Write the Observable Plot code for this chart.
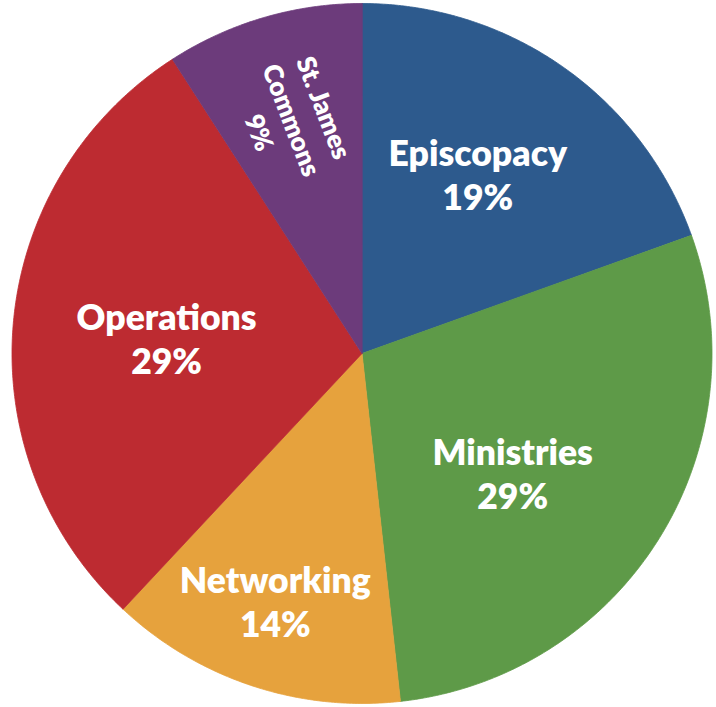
<!DOCTYPE html>
<html>
<head>
<meta charset="utf-8">
<script src="https://cdn.jsdelivr.net/npm/d3@7"></script>
<script src="https://cdn.jsdelivr.net/npm/@observablehq/plot@0.6"></script>
<style>
  html, body { margin: 0; padding: 0; background: #ffffff; }
  #chart svg { display: block; }
</style>
</head>
<body>
<div id="chart"></div>
<script>
// ---- data ----
const categories = ["Episcopacy", "Ministries", "Networking", "Operations", "St. James Commons"];
const displayNames = ["Episcopacy", "Ministries", "Networking", "Operations", "St. James\nCommons"];
const values = [19.5, 28.7, 13.7, 28.9, 9.1];
const percentLabels = ["19%", "29%", "14%", "29%", "9%"];

// ---- styles / layout ----
const colors = ["#2d5a8d", "#5e9a48", "#e6a23d", "#bd2b31", "#6c3b7b"];
const labelRadius = [0.61, 0.55, 0.75, 0.56, 0.697];
const labelAngleShift = [-2.3, 6.5, 0.9, -0.6, 0];
const labelRotate = [0, 0, 0, 0, 69];
const labelSize = [35.5, 35.5, 35.5, 35.5, 26];
const smallLabel = [false, false, false, false, true];

const arcs = d3.pie().sort(null)(values);

// slice outlines as polygons in unit coordinates (x = sin, y = cos, angle 0 at top, clockwise)
const slicePoints = [];
arcs.forEach((a, i) => {
  const name = categories[i];
  slicePoints.push({name, x: 0, y: 0});
  const n = Math.max(2, Math.ceil((a.endAngle - a.startAngle) / (Math.PI / 360)));
  for (let k = 0; k <= n; k++) {
    const t = a.startAngle + (a.endAngle - a.startAngle) * k / n;
    slicePoints.push({name, x: Math.sin(t), y: Math.cos(t)});
  }
});

const labels = arcs.map((a, i) => {
  const mid = (a.startAngle + a.endAngle) / 2 + labelAngleShift[i] * Math.PI / 180;
  return {
    text: displayNames[i] + "\n" + percentLabels[i],
    x: labelRadius[i] * Math.sin(mid),
    y: labelRadius[i] * Math.cos(mid),
    rotate: labelRotate[i],
    size: labelSize[i],
    small: smallLabel[i]
  };
});

const textStyle = {
  x: "x", y: "y", text: "text",
  rotate: "rotate", fontSize: "size",
  fill: "white",
  fontFamily: "Lato, 'Open Sans', sans-serif",
  fontWeight: 800,
  textAnchor: "middle",
  lineAnchor: "middle"
};

const chart = Plot.plot({
  width: 716,
  height: 707,
  marginLeft: 11.5,
  marginRight: 4.5,
  marginTop: 3,
  marginBottom: 4,
  x: {domain: [-1, 1], axis: null},
  y: {domain: [-1, 1], axis: null},
  color: {domain: categories, range: colors},
  style: {background: "#ffffff"},
  marks: [
    Plot.line(slicePoints, {
      x: "x", y: "y", z: "name",
      fill: "name", stroke: "name",
      strokeWidth: 0.8,
      curve: "linear-closed"
    }),
    Plot.text(labels.filter(d => !d.small), {...textStyle, lineHeight: 1.24}),
    Plot.text(labels.filter(d => d.small), {...textStyle, lineHeight: 1.33})
  ]
});
document.getElementById("chart").appendChild(chart);
</script>
</body>
</html>
